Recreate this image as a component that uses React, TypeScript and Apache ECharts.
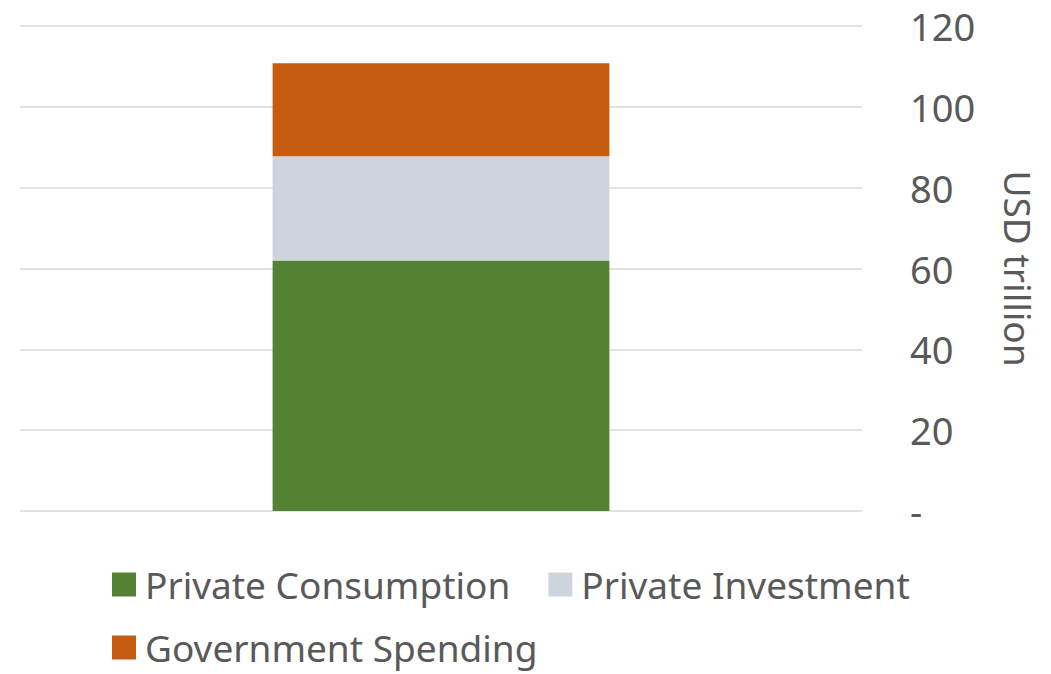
import React, { useEffect, useRef } from "react";
import * as echarts from "echarts";

const categories = ["World"];
const seriesNames = ["Private Consumption", "Private Investment", "Government Spending"];
const privateConsumption = [62.0];
const privateInvestment = [25.8];
const governmentSpending = [23.0];
const seriesColors = ["#548235", "#CDD4DE", "#C55A11"];
const yTicks = { min: 0, max: 120, interval: 20 };

export default function App() {
  const ref = useRef<HTMLDivElement>(null);
  useEffect(() => {
    document.body.style.margin = "0";
    if (!ref.current) return;
    const chart = echarts.init(ref.current, null, { renderer: "svg" });
    const font = "Noto Sans";
    const textColor = "#595959";
    const values = [privateConsumption, privateInvestment, governmentSpending];
    const legendText = {
      fontFamily: font,
      fontSize: 37,
      color: textColor,
      padding: [0, 0, 0, 4],
    };
    chart.setOption({
      animation: false,
      backgroundColor: "#ffffff",
      grid: { left: 20, right: 189, top: 26, bottom: 163, containLabel: false },
      xAxis: {
        type: "category",
        data: categories,
        axisLine: { show: false },
        axisTick: { show: false },
        axisLabel: { show: false },
        splitLine: { show: false },
      },
      yAxis: {
        type: "value",
        position: "right",
        min: yTicks.min,
        max: yTicks.max,
        interval: yTicks.interval,
        name: "USD trillion",
        nameLocation: "middle",
        nameRotate: -90,
        nameGap: 138,
        nameTextStyle: { fontFamily: font, fontSize: 37, color: textColor },
        axisLine: { show: false },
        axisTick: { show: false },
        axisLabel: {
          margin: 48,
          fontFamily: font,
          fontSize: 38,
          color: textColor,
          formatter: (v: number) => (v === 0 ? "-" : String(v)),
        },
        splitLine: { lineStyle: { color: "#D9D9D9", width: 1.5 } },
      },
      legend: [
        {
          data: [seriesNames[0], seriesNames[1]],
          left: 112,
          top: 566,
          padding: 0,
          itemWidth: 24,
          itemHeight: 24,
          itemGap: 38,
          icon: "rect",
          textStyle: legendText,
        },
        {
          data: [seriesNames[2]],
          left: 112,
          top: 629,
          padding: 0,
          itemWidth: 24,
          itemHeight: 24,
          icon: "rect",
          textStyle: legendText,
        },
      ],
      series: seriesNames.map((name, i) => ({
        name,
        type: "bar",
        stack: "total",
        barWidth: "40%",
        data: values[i],
        itemStyle: { color: seriesColors[i] },
      })),
    });
    return () => chart.dispose();
  }, []);
  return <div ref={ref} style={{ width: 1051, height: 674 }} />;
}
